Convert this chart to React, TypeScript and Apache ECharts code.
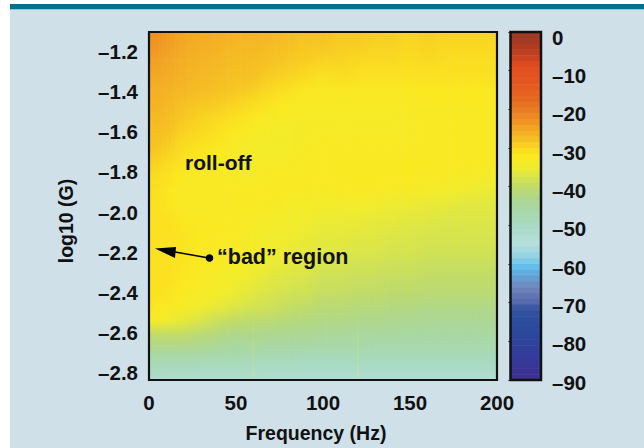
import React, { useEffect, useRef } from "react";
import * as echarts from "echarts";

const freqs = [0, 10, 20, 30, 40, 50, 60, 70, 80, 90, 100, 110, 120, 130, 140, 150, 160, 170, 180, 190, 200];
const logG = [-1.1, -1.17, -1.24, -1.32, -1.39, -1.46, -1.53, -1.6, -1.68, -1.75, -1.82, -1.89, -1.97, -2.04, -2.11, -2.18, -2.25, -2.33, -2.4, -2.47, -2.54, -2.61, -2.69, -2.76, -2.83];
const levels = [
  [-22, -23.5, -25, -25.5, -26, -26.5, -26.5, -27, -27.5, -28, -28, -28.5, -28.5, -29, -29, -29.5, -29, -29.5, -29.5, -29.5, -29.5],
  [-23, -24, -25.5, -26, -26.5, -27, -27, -27.5, -28, -28.5, -28.5, -29, -29, -29.5, -29.5, -30, -29.5, -30, -30, -30, -30],
  [-24, -25, -26, -26.5, -27, -27.5, -27.5, -28, -28.5, -29, -29.5, -29.5, -30, -30, -30, -30.5, -30, -30.5, -30.5, -30.5, -30.5],
  [-25, -25.5, -26.5, -27, -27.5, -28, -28, -29, -29.5, -30, -31, -30.5, -31, -31, -31, -31, -31, -31, -31, -31, -31],
  [-26, -26.5, -27, -27.5, -28, -28.5, -29, -30, -31, -32, -32.5, -32, -32.5, -32.5, -32.5, -32.5, -32, -32, -32, -32, -32],
  [-26, -27, -28, -28.5, -29, -29.5, -30.5, -31.5, -32.5, -33, -33, -33, -33, -33, -33, -33, -32.5, -32.5, -32.5, -32.5, -32.5],
  [-27, -27.5, -28.5, -29.5, -30, -31, -32, -33, -33.5, -33.5, -33.5, -33.5, -33.5, -33.5, -33.5, -33, -33, -33, -33, -33, -33],
  [-27.5, -28, -29.5, -30, -31, -32.5, -33.5, -34, -34, -33.5, -33.5, -33.5, -33.5, -33.5, -33.5, -33.5, -33, -33, -33, -33, -33],
  [-28, -29, -30.5, -31.5, -32, -33.5, -34, -34, -34, -33.5, -33, -33, -33, -33, -33, -33, -33, -33, -33, -33, -33],
  [-29, -30, -31.5, -32.5, -33, -34, -34, -33.5, -33.5, -33, -33, -32.5, -32.5, -32.5, -32.5, -32.5, -32.5, -33, -33, -33, -33],
  [-30, -31, -32.5, -33, -33, -33.5, -33.5, -33, -33, -33, -33, -32.5, -32.5, -32.5, -32.5, -32.5, -33, -33, -33.5, -34, -34],
  [-30.5, -31.5, -33, -33, -33, -33, -33, -33, -33, -33, -33.5, -33, -33, -33, -33.5, -33.5, -34, -34.5, -35, -35.5, -35.5],
  [-31, -31.5, -33, -33, -33, -33, -33, -33.5, -34, -34, -34.5, -34.5, -35, -35, -35.5, -35.5, -36, -36, -36.5, -36.5, -36.5],
  [-31, -31, -32, -32.5, -32.5, -33, -33.5, -34, -34.5, -35, -35.5, -35.5, -35.5, -36, -36, -36.5, -36.5, -37, -37, -37, -37],
  [-31, -31, -31.5, -32, -32.5, -33, -34, -34.5, -35, -35.5, -36, -36, -36.5, -36.5, -37, -37, -37.5, -37.5, -37.5, -37.5, -37.5],
  [-31, -31, -31.5, -32, -33, -33.5, -34, -35, -35.5, -36, -36.5, -36.5, -37, -37, -37.5, -37.5, -38, -38, -38, -38, -38],
  [-31, -31, -31.5, -32.5, -33, -34, -34.5, -35.5, -36, -36.5, -37.5, -37.5, -38, -38, -38.5, -38.5, -39, -39, -39, -39, -39],
  [-31, -31, -32, -33, -34, -34.5, -35.5, -36.5, -37, -37.5, -38.5, -38.5, -39, -39, -39.5, -39.5, -40, -40, -40, -40, -40],
  [-31, -31.5, -32.5, -33.5, -34.5, -35.5, -36.5, -37.5, -38, -38.5, -39.5, -39.5, -40, -40, -40.5, -40.5, -41, -41, -41, -41, -41],
  [-31.5, -32.5, -33.5, -35, -36, -37, -38, -38.5, -39.5, -40, -41, -41, -41.5, -41.5, -42, -42, -42.5, -42.5, -42.5, -42.5, -42.5],
  [-34, -35, -36, -37.5, -39, -40, -40.5, -41, -41.5, -42, -42.5, -42.5, -43, -43, -43.5, -43.5, -44, -44, -44, -44, -44],
  [-40, -40, -40, -41, -42, -43, -43, -43.5, -44, -44, -44.5, -44.5, -45, -45, -45, -45.5, -45.5, -45.5, -45.5, -45.5, -45.5],
  [-44.5, -44.5, -44.5, -45, -45.5, -46, -46, -46.5, -46.5, -47, -47, -47, -47, -47.5, -47.5, -47.5, -47.5, -47.5, -47.5, -47.5, -47.5],
  [-48, -48.5, -48.5, -49, -49, -49, -49.5, -49.5, -49.5, -50, -50, -50, -50, -50, -50, -50, -50, -50, -50, -50, -50],
  [-52, -52.5, -52.5, -52.5, -52.5, -52.5, -52.5, -53, -53, -53, -53, -53, -53, -53, -53, -53, -53, -53, -53, -53, -53],
];
const humFreqs = [60, 120];
const humFrom = -2.45;
const yTicks = [-1.2, -1.4, -1.6, -1.8, -2.0, -2.2, -2.4, -2.6, -2.8];
const xTicks = [0, 50, 100, 150, 200];
const barTicks = [0, -10, -20, -30, -40, -50, -60, -70, -80, -90];
const barLevels = [0, -1.5, -3, -4.5, -6, -7.5, -9, -10.5, -12, -13.5, -15, -16.5, -18, -19.5, -21, -22.5, -24, -25.5, -27, -28.5, -30, -31.5, -33, -34.5, -36, -37.5, -39, -40.5, -42, -43.5, -45, -46.5, -48, -49.5, -51, -52.5, -54, -55.5, -57, -58.5, -60, -61.5, -63, -64.5, -66, -67.5, -69, -70.5, -72, -73.5, -75, -76.5, -78, -79.5, -81, -82.5, -84, -85.5, -87, -88.5];
const colorStops: [number, string][] = [
  [-90, "#3f2f8e"], [-85, "#35389a"], [-78, "#2b489c"], [-72, "#2f509f"], [-70, "#5468ac"], [-66, "#7186bd"], [-63, "#62a4d8"], [-61, "#5fbdea"], [-58, "#93d2e4"], [-55, "#b5dfdc"],
  [-50, "#a9dac4"], [-46, "#a8d8a8"], [-43, "#aed78c"], [-40, "#c0db68"], [-37, "#dce646"], [-35, "#f1ec2c"], [-32, "#fbe81f"], [-30, "#fad920"], [-28, "#f6c122"], [-25, "#f3a524"], [-22, "#ee8a22"], [-18, "#e56c1f"],
  [-13, "#e4561f"], [-9, "#e34f1f"], [-6, "#c4401f"], [-3, "#a83a22"], [0, "#983a25"],
];

function levelColor(v: number): string {
  for (let i = 1; i < colorStops.length; i++) {
    const [a, ca] = colorStops[i - 1];
    const [b, cb] = colorStops[i];
    if (v <= b) return echarts.color.lerp((v - a) / (b - a), [ca, cb]) as string;
  }
  return colorStops[colorStops.length - 1][1];
}

const dash = (v: number | string, digits = 0) => {
  const n = Number(v);
  const s = Math.abs(n).toFixed(digits);
  return n < 0 ? "\u2013" + s : s;
};

const FONT = '"Liberation Sans", Arial, sans-serif';
const tickStyle = { color: "#111", fontWeight: "bold" as const, fontSize: 20.5, fontFamily: FONT };
const nameStyle = { ...tickStyle, fontSize: 19.5 };
const PANEL = "#cfe0e8";
const STRIPS = 4;

export default function App() {
  const ref = useRef<HTMLDivElement>(null);
  useEffect(() => {
    document.body.style.margin = "0";
    document.body.style.background = "#fff";
    const chart = echarts.init(ref.current!, undefined, { renderer: "svg" });
    const cells: number[][] = [];
    for (let r = 0; r < logG.length - 1; r++) for (let c = 0; c < freqs.length - 1; c++) cells.push([c, r]);
    const barTickAxis = {
      gridIndex: 1, type: "value", min: -90, max: 0, interval: 10,
      axisLine: { show: false }, axisLabel: { show: false }, splitLine: { show: false },
      axisTick: { show: true, inside: true, length: 3, lineStyle: { color: "#666" } },
    };
    chart.setOption({
      animation: false,
      graphic: [
        { type: "rect", z: -10, silent: true, shape: { x: 10, y: 10, width: 634, height: 438 }, style: { fill: PANEL } },
        { type: "rect", z: -9, silent: true, shape: { x: 10, y: 4, width: 634, height: 5 }, style: { fill: "#00708f" } },
        { type: "rect", z: -9, silent: true, shape: { x: 10, y: 9, width: 634, height: 1 }, style: { fill: "#8cc5d5" } },
        { type: "text", z: 50, x: 185, y: 152, style: { text: "roll-off", font: `bold 21px ${FONT}`, fill: "#111" } },
        { type: "text", z: 50, x: 217, y: 246, style: { text: "\u201cbad\u201d region", font: `bold 21.5px ${FONT}`, fill: "#111" } },
        { type: "line", z: 50, shape: { x1: 209, y1: 258, x2: 175, y2: 252 }, style: { stroke: "#000", lineWidth: 1.5 } },
        { type: "polygon", z: 50, shape: { points: [[155, 248.5], [176, 247], [175, 258]] }, style: { fill: "#000" } },
        { type: "circle", z: 50, shape: { cx: 209.5, cy: 258, r: 3.8 }, style: { fill: "#000" } },
      ],
      grid: [
        { left: 149, top: 32, width: 348, height: 348 },
        { left: 511, top: 32, width: 30, height: 348 },
        { left: 511, top: 37, width: 30, height: 345 },
      ],
      xAxis: [
        {
          gridIndex: 0, type: "value", min: 0, max: 200, interval: 50,
          name: "Frequency (Hz)", nameLocation: "middle", nameGap: 44, nameTextStyle: { ...nameStyle, padding: [0, 14, 0, 0] },
          axisLine: { show: false }, axisTick: { show: false }, splitLine: { show: false },
          axisLabel: { ...tickStyle, margin: 13, customValues: xTicks },
        },
        { gridIndex: 1, type: "value", min: 0, max: 1, show: false },
        { gridIndex: 2, type: "value", min: 0, max: 1, show: false },
      ],
      yAxis: [
        {
          gridIndex: 0, type: "value", min: -2.83, max: -1.105,
          name: "log10 (G)", nameLocation: "middle", nameGap: 73, nameRotate: 90, nameTextStyle: { ...nameStyle, padding: [0, 31, 0, 0] },
          axisLine: { show: false }, axisTick: { show: false }, splitLine: { show: false },
          axisLabel: { ...tickStyle, margin: 11, customValues: yTicks, formatter: (v: number) => dash(v, 1) },
        },
        { ...barTickAxis, position: "right" },
        { ...barTickAxis, position: "left" },
        {
          gridIndex: 2, type: "value", position: "right", min: -90, max: 0, interval: 10,
          axisLine: { show: false }, axisTick: { show: false }, splitLine: { show: false },
          axisLabel: { ...tickStyle, margin: 11, customValues: barTicks, formatter: (v: number) => dash(v, 0) },
        },
      ],
      series: [
        {
          type: "custom", xAxisIndex: 0, yAxisIndex: 0, silent: true, clip: true, data: cells,
          encode: { x: 0, y: 1 },
          renderItem: (_: any, api: any) => {
            const c = api.value(0), r = api.value(1);
            const p0 = api.coord([freqs[c], logG[r]]);
            const p1 = api.coord([freqs[c + 1], logG[r + 1]]);
            const w = (p1[0] - p0[0]) / STRIPS;
            const children = [];
            for (let s = 0; s < STRIPS; s++) {
              const t = (s + 0.5) / STRIPS;
              const top = levels[r][c] * (1 - t) + levels[r][c + 1] * t;
              const bottom = levels[r + 1][c] * (1 - t) + levels[r + 1][c + 1] * t;
              children.push({
                type: "rect",
                shape: { x: p0[0] + s * w, y: p0[1], width: w + 0.5, height: p1[1] - p0[1] + 0.5 },
                style: {
                  fill: new echarts.graphic.LinearGradient(0, 0, 0, 1, [
                    { offset: 0, color: levelColor(top) },
                    { offset: 1, color: levelColor(bottom) },
                  ]),
                },
              });
            }
            return { type: "group", children };
          },
        },
        {
          type: "custom", xAxisIndex: 0, yAxisIndex: 0, silent: true, z: 5, data: humFreqs.map((f) => [f, humFrom]),
          encode: { x: 0, y: 1 },
          renderItem: (_: any, api: any) => {
            const p0 = api.coord([api.value(0), api.value(1)]);
            const p1 = api.coord([api.value(0), -2.83]);
            return {
              type: "rect",
              shape: { x: p0[0] - 0.75, y: p0[1], width: 1.5, height: p1[1] - p0[1] },
              style: {
                fill: new echarts.graphic.LinearGradient(0, 0, 0, 1, [
                  { offset: 0, color: "rgba(214,232,110,0)" },
                  { offset: 1, color: "rgba(214,232,110,0.45)" },
                ]),
              },
            };
          },
        },
        {
          type: "custom", xAxisIndex: 1, yAxisIndex: 1, silent: true, data: barLevels.map((v) => [0, v]),
          encode: { y: 1 },
          renderItem: (_: any, api: any) => {
            const v = api.value(1);
            const p0 = api.coord([0, v]);
            const p1 = api.coord([1, v - 1.5]);
            return { type: "rect", shape: { x: p0[0], y: p0[1], width: p1[0] - p0[0], height: p1[1] - p0[1] + 0.5 }, style: { fill: levelColor(v - 0.75) } };
          },
        },
        {
          type: "custom", xAxisIndex: 0, yAxisIndex: 0, silent: true, z: 10, clip: false, data: [[0, -1.105]],
          renderItem: () => ({ type: "rect", shape: { x: 149, y: 32, width: 348, height: 348 }, style: { fill: "none", stroke: "#111", lineWidth: 2.2 } }),
        },
        {
          type: "custom", xAxisIndex: 1, yAxisIndex: 1, silent: true, z: 10, clip: false, data: [[0, 0]],
          renderItem: () => ({ type: "rect", shape: { x: 510.5, y: 32, width: 30.5, height: 348 }, style: { fill: "none", stroke: "#111", lineWidth: 2.5 } }),
        },
      ],
    });
    return () => chart.dispose();
  }, []);
  return <div ref={ref} style={{ width: 644, height: 448 }} />;
}
